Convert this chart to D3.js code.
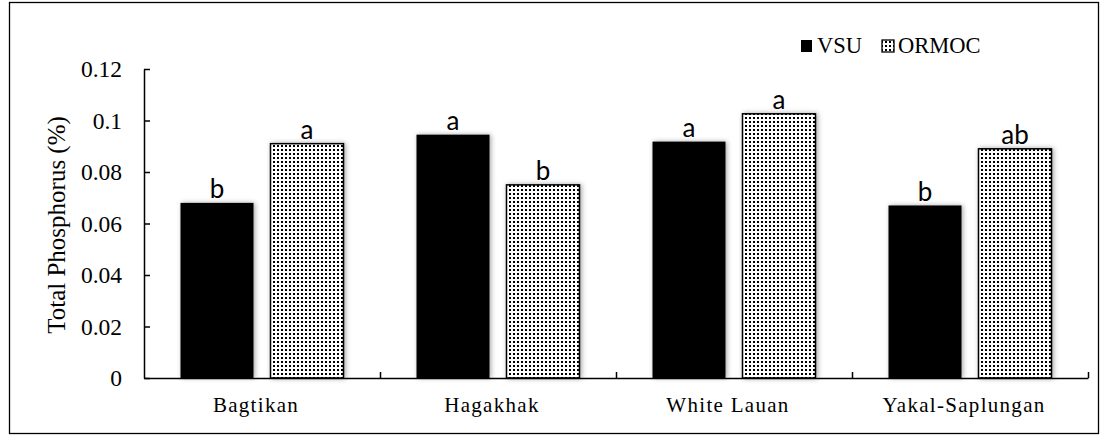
<!DOCTYPE html>
<html>
<head>
<meta charset="utf-8">
<script src="https://cdn.jsdelivr.net/npm/d3@7"></script>
<style>
  html, body { margin: 0; padding: 0; background: #fff; }
  svg { display: block; }
</style>
</head>
<body>
<svg id="chart" width="1102" height="437"></svg>
<script>
// Total phosphorus by wood species and source
const categories = ["Bagtikan", "Hagakhak", "White Lauan", "Yakal-Saplungan"];
const seriesNames = ["VSU", "ORMOC"];
const vsuValues = [0.068, 0.0945, 0.0918, 0.067];
const ormocValues = [0.091, 0.075, 0.1026, 0.089];
const vsuLetters = ["b", "a", "a", "b"];
const ormocLetters = ["a", "b", "a", "ab"];
const yTicks = [0, 0.02, 0.04, 0.06, 0.08, 0.1, 0.12];
const yTickLabels = ["0", "0.02", "0.04", "0.06", "0.08", "0.1", "0.12"];

const rows = categories.map((c, i) => ({
  category: c,
  bars: [
    { series: "VSU", value: vsuValues[i], letter: vsuLetters[i] },
    { series: "ORMOC", value: ormocValues[i], letter: ormocLetters[i] }
  ]
}));

const serif = "Liberation Serif, Times New Roman, serif";
const svg = d3.select("#chart");
const plot = { left: 144, right: 1088, top: 69, bottom: 378 };

const defs = svg.append("defs");
function dotPattern(id) {
  const p = defs.append("pattern")
    .attr("id", id).attr("patternUnits", "userSpaceOnUse")
    .attr("width", 4).attr("height", 4);
  p.append("rect").attr("width", 4).attr("height", 4).attr("fill", "#fff");
  p.append("rect").attr("x", 1).attr("y", 1).attr("width", 2).attr("height", 2).attr("fill", "#000");
}
dotPattern("dots");
dotPattern("dotsLegend");

const shadow = defs.append("filter").attr("id", "shadow")
  .attr("x", "-20%").attr("y", "-5%").attr("width", "140%").attr("height", "110%");
shadow.append("feDropShadow")
  .attr("dx", 1.5).attr("dy", 0).attr("stdDeviation", 2.5)
  .attr("flood-color", "#000").attr("flood-opacity", 0.35);

// outer frame
svg.append("rect")
  .attr("x", 9.5).attr("y", 2.5).attr("width", 1089).attr("height", 431)
  .attr("fill", "none").attr("stroke", "#000").attr("stroke-width", 1.3);

const x0 = d3.scaleBand().domain(categories).range([plot.left, plot.right]).padding(0);
const bw0 = x0.bandwidth();
const x1 = d3.scaleBand().domain(seriesNames)
  .range([bw0 * 36.5 / 236, bw0 * 199.5 / 236])
  .paddingInner(17 / 90).paddingOuter(0);
const y = d3.scaleLinear().domain([0, 0.12]).range([plot.bottom, plot.top]);

const fills = { VSU: "#000", ORMOC: "url(#dots)" };

// bars
const groups = svg.append("g").selectAll("g").data(rows).join("g")
  .attr("transform", d => `translate(${x0(d.category)},0)`);

groups.selectAll("rect").data(d => d.bars).join("rect")
  .attr("x", d => x1(d.series))
  .attr("y", d => y(d.value))
  .attr("width", x1.bandwidth())
  .attr("height", d => y(0) - y(d.value))
  .attr("fill", d => fills[d.series])
  .attr("stroke", "#000")
  .attr("stroke-width", d => d.series === "ORMOC" ? 1.5 : 0)
  .attr("filter", "url(#shadow)");

// significance letters
groups.selectAll("text").data(d => d.bars).join("text")
  .attr("x", d => x1(d.series) + x1.bandwidth() / 2)
  .attr("y", d => y(d.value) - 4.5)
  .attr("text-anchor", "middle")
  .style("font-family", "Lato, 'Open Sans', sans-serif")
  .style("font-size", "26px")
  .attr("fill", "#000")
  .text(d => d.letter);

// y axis
const yAxis = d3.axisLeft(y).tickValues(yTicks)
  .tickFormat((d, i) => yTickLabels[i])
  .tickSizeInner(-6).tickSizeOuter(0).tickPadding(22);
const gy = svg.append("g").attr("transform", `translate(${plot.left},0)`).call(yAxis);
gy.select(".domain").attr("stroke-width", 1.5);
gy.selectAll(".tick line").attr("stroke-width", 1.5);
gy.selectAll(".tick text")
  .style("font-family", serif)
  .style("font-size", "23.5px").attr("fill", "#000");

// x axis: boundary ticks
const xb = d3.scaleLinear().domain([0, categories.length]).range([plot.left, plot.right]);
const xAxisLine = d3.axisBottom(xb).tickValues(d3.range(1, categories.length + 1))
  .tickFormat("").tickSizeInner(-6).tickSizeOuter(0);
const gx = svg.append("g").attr("transform", `translate(0,${plot.bottom})`).call(xAxisLine);
gx.select(".domain").attr("stroke-width", 1.5);
gx.selectAll(".tick line").attr("stroke-width", 1.5);

// x axis: category labels
const xAxisLabels = d3.axisBottom(x0).tickSize(0).tickPadding(19);
const gxl = svg.append("g").attr("transform", `translate(-6,${plot.bottom})`).call(xAxisLabels);
gxl.select(".domain").remove();
gxl.selectAll(".tick text")
  .style("font-family", serif)
  .style("font-size", "21px").style("letter-spacing", "1.3px").attr("fill", "#000");

// y axis title
svg.append("text")
  .attr("transform", "translate(65,225) rotate(-90)")
  .attr("text-anchor", "middle")
  .style("font-family", serif)
  .style("font-size", "25px").attr("fill", "#000")
  .text("Total Phosphorus (%)");

// legend
const legend = svg.append("g");
const legendItems = [
  { name: "VSU", fill: "#000", sw: 0, x: 801, w: 11, tx: 817 },
  { name: "ORMOC", fill: "url(#dotsLegend)", sw: 1.3, x: 882, w: 12, tx: 898 }
];
legend.selectAll("rect").data(legendItems).join("rect")
  .attr("x", d => d.x).attr("y", 40).attr("width", d => d.w).attr("height", 12)
  .attr("fill", d => d.fill).attr("stroke", "#000").attr("stroke-width", d => d.sw);
legend.selectAll("text").data(legendItems).join("text")
  .attr("x", d => d.tx).attr("y", 53)
  .style("font-family", serif)
  .style("font-size", "22.5px").attr("fill", "#000")
  .text(d => d.name);
</script>
</body>
</html>
